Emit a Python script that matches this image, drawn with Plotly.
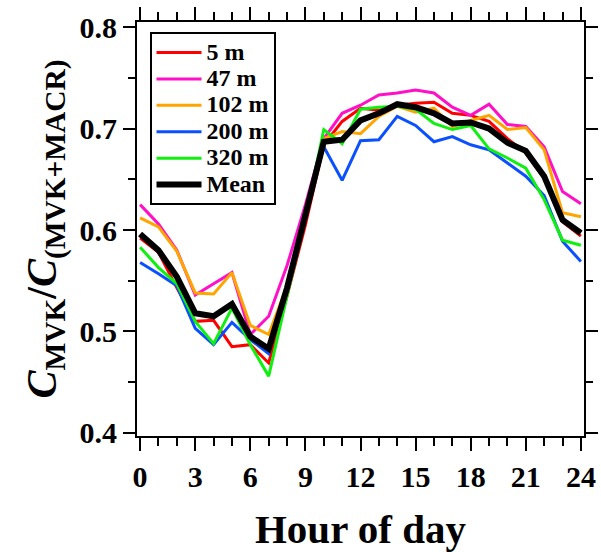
import plotly.graph_objects as go

hours = list(range(25))
names = ["5 m", "47 m", "102 m", "200 m", "320 m", "Mean"]
colors = ["#ff0000", "#ff10c8", "#ffa500", "#0a50ff", "#10f010", "#000000"]
widths = [3, 3, 3, 3, 3, 6]

red = [0.592, 0.578, 0.543, 0.510, 0.511, 0.485, 0.487, 0.469, 0.535, 0.605,
       0.684, 0.707, 0.720, 0.718, 0.723, 0.725, 0.726, 0.715, 0.713, 0.707,
       0.690, 0.676, 0.651, 0.608, 0.594]
magenta = [0.625, 0.606, 0.580, 0.536, 0.547, 0.558, 0.497, 0.515, 0.565, 0.625,
           0.690, 0.715, 0.723, 0.733, 0.735, 0.738, 0.735, 0.721, 0.713, 0.724,
           0.704, 0.702, 0.682, 0.638, 0.626]
orange = [0.612, 0.603, 0.579, 0.538, 0.537, 0.558, 0.506, 0.497, 0.545, 0.615,
          0.690, 0.697, 0.695, 0.712, 0.722, 0.716, 0.720, 0.702, 0.708, 0.713,
          0.699, 0.701, 0.679, 0.617, 0.613]
blue = [0.568, 0.557, 0.545, 0.503, 0.487, 0.509, 0.492, 0.478, 0.540, 0.615,
        0.682, 0.649, 0.688, 0.689, 0.712, 0.703, 0.687, 0.692, 0.684, 0.679,
        0.666, 0.653, 0.634, 0.589, 0.569]
green = [0.583, 0.563, 0.547, 0.510, 0.488, 0.523, 0.487, 0.456, 0.535, 0.612,
         0.699, 0.685, 0.719, 0.721, 0.722, 0.719, 0.705, 0.699, 0.703, 0.680,
         0.671, 0.661, 0.630, 0.590, 0.585]
mean = [0.596, 0.580, 0.554, 0.518, 0.515, 0.527, 0.495, 0.483, 0.543, 0.615,
        0.687, 0.689, 0.708, 0.715, 0.724, 0.721, 0.715, 0.705, 0.706, 0.700,
        0.686, 0.678, 0.653, 0.610, 0.597]

series = [red, magenta, orange, blue, green, mean]

fig = go.Figure()
for n, c, w, s in zip(names, colors, widths, series):
    fig.add_trace(go.Scatter(x=hours, y=s, mode="lines",
                             name='<span style="font-size:24px">%s</span>' % n,
                             line=dict(color=c, width=w)))

font = dict(family="Liberation Serif", color="black", weight="bold")

fig.update_layout(
    width=601, height=552,
    margin=dict(l=137, r=17, t=22, b=116),
    paper_bgcolor="white", plot_bgcolor="white",
    showlegend=True,
    legend=dict(x=0.028, y=0.975, xanchor="left", yanchor="top",
                bgcolor="white", bordercolor="black", borderwidth=2,
                itemwidth=45,
                font=dict(size=18, **font), tracegroupgap=0),
    xaxis=dict(range=[-0.17, 24.17], tickmode="linear", tick0=0, dtick=3,
               automargin=False,
               ticks="outside", ticklen=13, tickwidth=2, tickcolor="black",
               minor=dict(dtick=1, ticks="outside", ticklen=8, tickwidth=2, tickcolor="black"),
               showline=True, linecolor="black", linewidth=2, mirror="ticks",
               showgrid=False, zeroline=False,
               tickfont=dict(size=30, **font),
               title=dict(text="Hour of day", font=dict(size=41, **font), standoff=22)),
    yaxis=dict(range=[0.397, 0.805], tickmode="linear", tick0=0.4, dtick=0.1,
               tickformat=".1f", automargin=False,
               ticks="outside", ticklen=12, tickwidth=2, tickcolor="black",
               minor=dict(dtick=0.05, ticks="outside", ticklen=7, tickwidth=2, tickcolor="black"),
               showline=True, linecolor="black", linewidth=2, mirror="ticks",
               showgrid=False, zeroline=False,
               tickfont=dict(size=30, **font),
               title=dict(text="<i>C</i><sub>MVK</sub>/<i>C</i><sub>(MVK+MACR)</sub>",
                          font=dict(size=42, **font), standoff=10)),
)

fig.write_html("out.html")
